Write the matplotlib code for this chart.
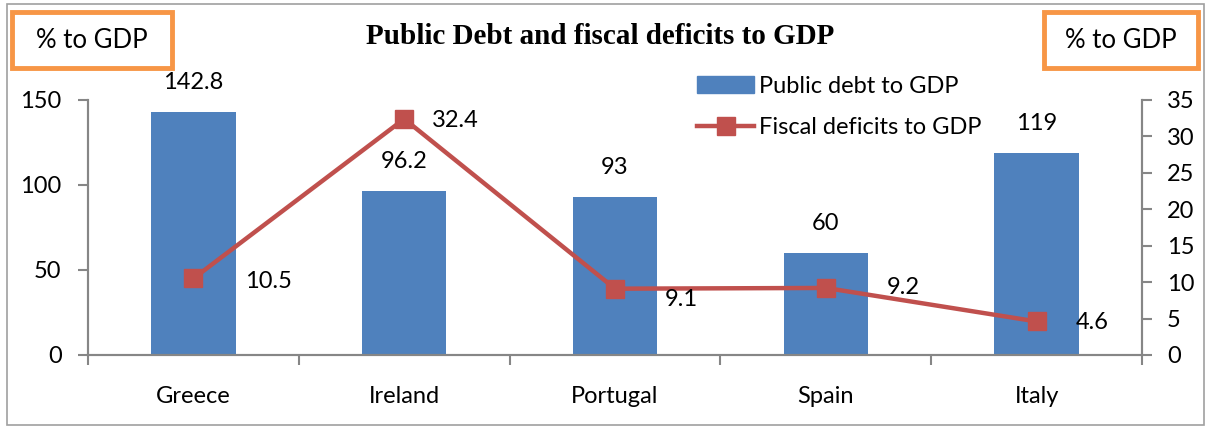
import matplotlib.pyplot as plt
from matplotlib.patches import Rectangle
from matplotlib.lines import Line2D

# data
countries = ["Greece", "Ireland", "Portugal", "Spain", "Italy"]
debt = [142.8, 96.2, 93, 60, 119]
deficit = [10.5, 32.4, 9.1, 9.2, 4.6]
debt_labels = ["142.8", "96.2", "93", "60", "119"]
deficit_labels = ["10.5", "32.4", "9.1", "9.2", "4.6"]

blue = "#4F81BD"
red = "#C0504D"
orange = "#F79646"
grey = "#868686"
font = "Lato"
fs = 17

fig = plt.figure(figsize=(12.07, 4.28), dpi=100)
ax = fig.add_axes([0.0729, 0.1706, 0.8733, 0.5958])
ax2 = ax.twinx()

x = list(range(len(countries)))
ax.bar(x, debt, width=0.4, color=blue, zorder=2)
ax2.plot(x, deficit, color=red, lw=3.2, marker="s", ms=13, zorder=3)

ax.set_xlim(-0.5, 4.5)
ax.set_ylim(0, 150)
ax2.set_ylim(0, 35)
ax.set_yticks([0, 50, 100, 150])
ax2.set_yticks(range(0, 40, 5))

# category labels centred, ticks between categories
ax.set_xticks(x)
ax.set_xticklabels(countries, fontsize=fs, family=font)
ax.set_xticks([i - 0.5 for i in range(6)], minor=True)
ax.tick_params(axis="x", which="major", length=0, pad=22)
ax.tick_params(axis="x", which="minor", length=7, color=grey, width=1.5)
ax.tick_params(axis="y", length=7, color=grey, width=1.5, pad=12, labelsize=fs)
ax2.tick_params(axis="y", length=7, color=grey, width=1.5, pad=11, labelsize=fs)
for lab in ax.get_yticklabels() + ax2.get_yticklabels():
    lab.set_family(font)

for a in (ax, ax2):
    a.spines["top"].set_visible(False)
    for s in ("left", "right", "bottom"):
        a.spines[s].set_color(grey)
        a.spines[s].set_linewidth(1.5)

# value labels
for i, v in enumerate(debt):
    ax.annotate(debt_labels[i], (i, v), xytext=(0, 19), textcoords="offset pixels",
                ha="center", va="bottom", fontsize=fs, family=font)
offsets = [(75, -3), (51, -2), (66, -11), (77, 0), (56, -1)]
for i, v in enumerate(deficit):
    ax2.annotate(deficit_labels[i], (i, v), xytext=offsets[i], textcoords="offset pixels",
                 ha="center", va="center", fontsize=fs, family=font, zorder=4)

# legend
handles = [Rectangle((0, 0), 1, 1, color=blue),
           Line2D([], [], color=red, lw=3.2, marker="s", ms=13)]
fig.legend(handles, ["Public debt to GDP", "Fiscal deficits to GDP"],
           loc="upper left", bbox_to_anchor=(0.568, 0.85), frameon=False,
           prop={"family": font, "size": fs}, handlelength=2.4, handletextpad=0.2,
           labelspacing=0.85, borderpad=0)

fig.text(0.497, 0.915, "Public Debt and fiscal deficits to GDP", ha="center", va="center",
         fontsize=21, fontweight="bold", family="Liberation Serif")

# orange boxes with axis units
W, H = 1207, 428
for (x0, x1) in [(12, 172), (1044, 1198)]:
    fig.patches.append(Rectangle((x0 / W, 1 - 68 / H), (x1 - x0) / W, 56 / H,
                                 transform=fig.transFigure, fill=False,
                                 edgecolor=orange, lw=3.5))
    fig.text((x0 + x1) / 2 / W, 1 - 41 / H, "% to GDP", ha="center", va="center",
             fontsize=18.5, family=font)

# outer frame
fig.patches.append(Rectangle((7 / W, 3 / H), 1197 / W, 421 / H, transform=fig.transFigure,
                             fill=False, edgecolor="#A0A0A0", lw=1.2))

plt.savefig("out.png", dpi=100)
